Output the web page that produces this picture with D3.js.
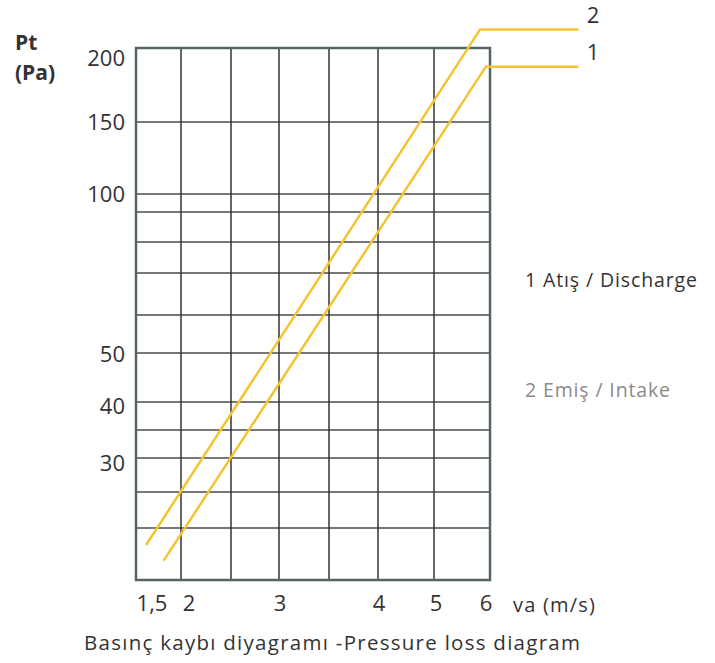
<!DOCTYPE html>
<html>
<head>
<meta charset="utf-8">
<script src="https://cdn.jsdelivr.net/npm/d3@7"></script>
<style>
  body { margin: 0; background: #fff; }
  text { font-family: "Open Sans", "DejaVu Sans", sans-serif; fill: #333; }
</style>
</head>
<body>
<div class="chart"></div>
<script>
// grid values (as printed on the sheet)
var vaGrid = [1.5, 2, 2.5, 3, 3.5, 4, 5, 6];
var vaTicks = [1.5, 2, 3, 4, 5, 6];
var vaTickLabels = ["1,5", "2", "3", "4", "5", "6"];

var ptGrid = [15, 20, 25, 30, 35, 40, 50, 60, 70, 80, 90, 100, 150, 200];
var ptTicks = [30, 40, 50, 100, 150, 200];

// curve 1 - discharge, curve 2 - intake (last point = leader to label)
var dischargeVa = [1.79, 5.92, 8];
var dischargePt = [16.7, 186, 186];
var intakeVa = [1.6, 5.81, 8];
var intakePt = [18.2, 215, 215];

var svgWidth = 715;
var svgHeight = 663;

var svg = d3.select(".chart")
  .append("svg")
  .attr("width", svgWidth)
  .attr("height", svgHeight);

// the printed grid is not a clean log grid, so map it piecewise
var xScale = d3.scaleLog()
  .domain(vaGrid)
  .range([136, 181, 231, 279, 329, 378, 434, 490]);

var yScale = d3.scaleLog()
  .domain(ptGrid)
  .range([580, 528, 492, 458, 430, 402, 353, 315, 273, 242, 212, 194, 122, 48]);

var gridColor = "#4a4a4a";

// horizontal grid
svg.append("g")
  .selectAll("line")
  .data(ptGrid.slice(1, -1))
  .enter()
  .append("line")
  .attr("x1", xScale(1.5))
  .attr("x2", xScale(6))
  .attr("y1", d => yScale(d))
  .attr("y2", d => yScale(d))
  .attr("stroke", gridColor)
  .attr("stroke-width", 1.5);

// vertical grid
svg.append("g")
  .selectAll("line")
  .data(vaGrid.slice(1, -1))
  .enter()
  .append("line")
  .attr("x1", d => xScale(d))
  .attr("x2", d => xScale(d))
  .attr("y1", yScale(200))
  .attr("y2", yScale(15))
  .attr("stroke", "#333")
  .attr("stroke-width", 1.5);

// frame
svg.append("rect")
  .attr("x", xScale(1.5))
  .attr("y", yScale(200))
  .attr("width", xScale(6) - xScale(1.5))
  .attr("height", yScale(15) - yScale(200))
  .attr("fill", "none")
  .attr("stroke", "#56645f")
  .attr("stroke-width", 2.5);

// y tick labels
var yOffsets = {200: 10, 150: 0, 100: 0, 50: 1, 40: 4, 30: 5};
svg.append("g")
  .selectAll("text")
  .data(ptTicks)
  .enter()
  .append("text")
  .attr("x", 125)
  .attr("y", d => yScale(d) + yOffsets[d])
  .attr("dy", "0.35em")
  .attr("text-anchor", "end")
  .style("font-size", "22px")
  .text(d => d);

// x tick labels
var xOffsets = {1.5: 16, 2: 8, 3: 1, 4: 1, 5: 2, 6: -4};
svg.append("g")
  .selectAll("text")
  .data(vaTicks)
  .enter()
  .append("text")
  .attr("x", d => xScale(d) + xOffsets[d])
  .attr("y", 603)
  .attr("dy", "0.35em")
  .attr("text-anchor", "middle")
  .style("font-size", "22px")
  .text((d, i) => vaTickLabels[i]);

svg.append("text")
  .attr("x", 513)
  .attr("y", 605)
  .attr("dy", "0.35em")
  .style("font-size", "20px")
  .attr("textLength", 82)
  .attr("lengthAdjust", "spacing")
  .text("va (m/s)");

// axis title
svg.append("text")
  .attr("x", 15)
  .attr("y", 50)
  .style("font-size", "21px")
  .style("font-weight", "bold")
  .text("Pt");
svg.append("text")
  .attr("x", 15)
  .attr("y", 80)
  .style("font-size", "21px")
  .style("font-weight", "bold")
  .text("(Pa)");

// curves
var line = d3.line()
  .x(d => xScale(d[0]))
  .y(d => yScale(d[1]));

var curves = [
  {name: "1", va: dischargeVa, pt: dischargePt},
  {name: "2", va: intakeVa, pt: intakePt}
];

svg.append("g")
  .selectAll("path")
  .data(curves)
  .enter()
  .append("path")
  .attr("d", d => line(d.va.map((v, i) => [v, d.pt[i]])))
  .attr("fill", "none")
  .attr("stroke", "#f5c332")
  .attr("stroke-width", 2.5);

svg.append("g")
  .selectAll("text")
  .data(curves)
  .enter()
  .append("text")
  .attr("x", 593)
  .attr("y", d => yScale(d.pt[d.pt.length - 1]) - 14)
  .attr("dy", "0.35em")
  .attr("text-anchor", "middle")
  .style("font-size", "22px")
  .text(d => d.name);

// legend
svg.append("text")
  .attr("x", 525)
  .attr("y", 280)
  .attr("dy", "0.35em")
  .style("font-size", "19.5px")
  .attr("textLength", 172)
  .attr("lengthAdjust", "spacing")
  .text("1 Atış / Discharge");

svg.append("text")
  .attr("x", 525)
  .attr("y", 390)
  .attr("dy", "0.35em")
  .style("font-size", "19.5px")
  .attr("textLength", 145)
  .attr("lengthAdjust", "spacing")
  .style("fill", "#8a8a8a")
  .text("2 Emiş / Intake");

// caption
svg.append("text")
  .attr("x", 332)
  .attr("y", 643)
  .attr("dy", "0.35em")
  .attr("text-anchor", "middle")
  .style("font-size", "20.5px")
  .attr("textLength", 496)
  .attr("lengthAdjust", "spacing")
  .text("Basınç kaybı diyagramı -Pressure loss diagram");
</script>
</body>
</html>
